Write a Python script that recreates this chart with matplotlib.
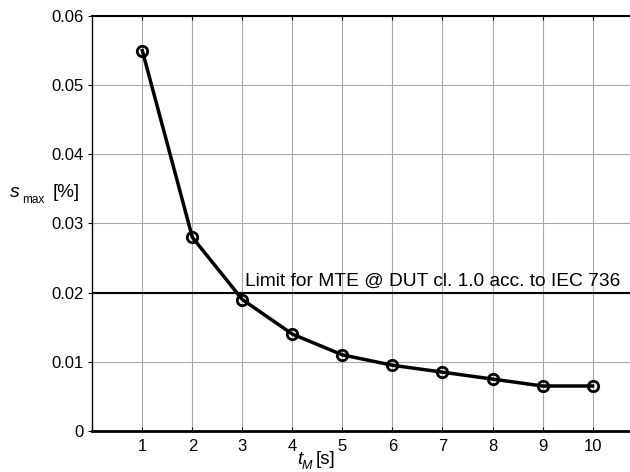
import numpy as np
import matplotlib
matplotlib.use('Agg')
import matplotlib.pyplot as plt

plt.rcParams['font.family'] = ['Liberation Sans', 'DejaVu Sans']

t_m = [1, 2, 3, 4, 5, 6, 7, 8, 9, 10]
s_max = [0.055, 0.028, 0.019, 0.014, 0.011, 0.0095, 0.0085, 0.0075, 0.0065, 0.0065]
limit = 0.02
yticks = [0, 0.01, 0.02, 0.03, 0.04, 0.05, 0.06]
ytick_labels = ['0', '0.01', '0.02', '0.03', '0.04', '0.05', '0.06']

fig = plt.figure(figsize=(6.3, 4.72), dpi=100)
ax = fig.add_axes([0.1465, 0.087, 0.86, 0.879])

ax.plot(t_m, s_max, color='black', lw=2.5, marker='o', ms=7.5, mfc='none', mec='black', mew=2, zorder=3)
ax.axhline(limit, color='black', lw=1.5, zorder=2)
ax.text(3.05, limit + 0.001, 'Limit for MTE @ DUT cl. 1.0 acc. to IEC 736', fontsize=13.8, va='baseline', ha='left')

ax.set_xlim(0, 10.83)
ax.set_ylim(0, 0.06)
ax.set_xticks(t_m)
ax.set_yticks(yticks)
ax.set_yticklabels(ytick_labels)
ax.grid(True, color='#a8a8a8', lw=0.8)
ax.tick_params(axis='x', direction='in', length=3, labelsize=12, top=True, pad=6)
ax.tick_params(axis='y', direction='out', length=3, labelsize=12)

ax.spines['right'].set_visible(False)
ax.spines['bottom'].set_linewidth(2)
ax.spines['top'].set_linewidth(1.5)
ax.spines['left'].set_linewidth(1)

# y label: s_max [%]
fig.text(0.016, 0.583, 's', fontsize=14, fontstyle='italic', ha='left', va='baseline')
fig.text(0.035, 0.570, 'max', fontsize=8.5, ha='left', va='baseline')
fig.text(0.084, 0.583, '[%]', fontsize=13.5, ha='left', va='baseline')

# x label: t_M [s]
fig.text(297 / 630, 0.016, 't', fontsize=13.5, fontstyle='italic', ha='left', va='baseline')
fig.text(302 / 630, 0.007, 'M', fontsize=9, fontstyle='italic', ha='left', va='baseline')
fig.text(316 / 630, 0.016, '[s]', fontsize=13.5, ha='left', va='baseline')

fig.savefig('out.png', dpi=100)
